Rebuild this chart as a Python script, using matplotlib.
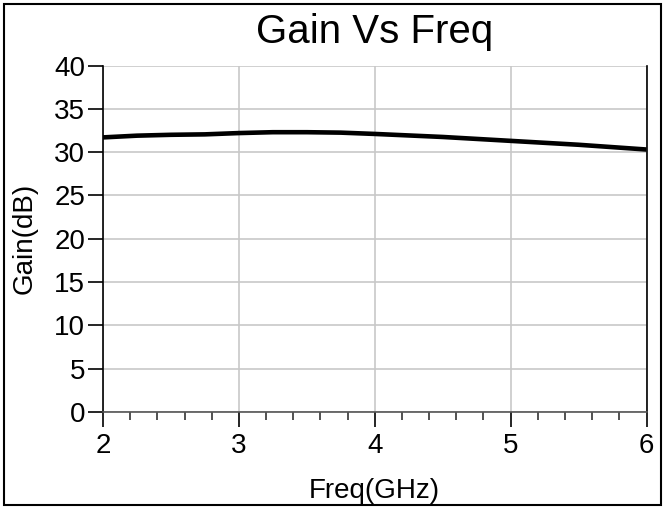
#!/usr/bin/env python3
import numpy as np
import matplotlib
matplotlib.use('Agg')
import matplotlib.pyplot as plt
from matplotlib.patches import Rectangle
from matplotlib.ticker import MultipleLocator

# gain curve
freq = [2.0, 2.25, 2.5, 2.75, 3.0, 3.25, 3.5, 3.75, 4.0, 4.5, 5.0, 5.5, 6.0]
gain = [31.7, 31.9, 32.0, 32.05, 32.2, 32.3, 32.3, 32.25, 32.1, 31.75, 31.3, 30.85, 30.3]
xticks = [2, 3, 4, 5, 6]
yticks = [0, 5, 10, 15, 20, 25, 30, 35, 40]

plt.rc('font', family='Liberation Sans', size=20)

fig = plt.figure(figsize=(6.67, 5.08), dpi=100)
ax = fig.add_axes([103/667, 1 - 412/508, (646.5 - 103)/667, (412 - 65.5)/508])

ax.plot(freq, gain, color='black', lw=3.3, solid_capstyle='butt', solid_joinstyle='round')

ax.set_xlim(2, 6)
ax.set_ylim(0, 40)
ax.set_xticks(xticks)
ax.set_yticks(yticks)
ax.xaxis.set_minor_locator(MultipleLocator(0.2))
ax.grid(True, color='#c8c8c8', lw=1.2)
ax.set_axisbelow(True)

ax.spines['top'].set_visible(False)
for s in ['left', 'bottom', 'right']:
    ax.spines[s].set_color('black')
    ax.spines[s].set_linewidth(1.2)
ax.spines['bottom'].set_color('#555555')

ax.tick_params(axis='both', which='major', direction='out', length=10.8, width=1.2, pad=2)
ax.tick_params(axis='x', which='major', pad=4)
ax.tick_params(axis='x', which='minor', direction='out', length=5.5, width=1.2, color='#333333')
ax.tick_params(axis='y', which='minor', left=False)

ax.set_title('Gain Vs Freq', fontsize=29, pad=16)
ax.set_xlabel('Freq(GHz)', labelpad=14)
ax.set_ylabel('Gain(dB)', labelpad=12)

# frame around whole figure
fig.patches.append(Rectangle((4/667, 3/508), 657/667, 501/508, transform=fig.transFigure,
                             fill=False, edgecolor='black', lw=1.5))

fig.savefig('out.png', dpi=100)
plt.close(fig)
